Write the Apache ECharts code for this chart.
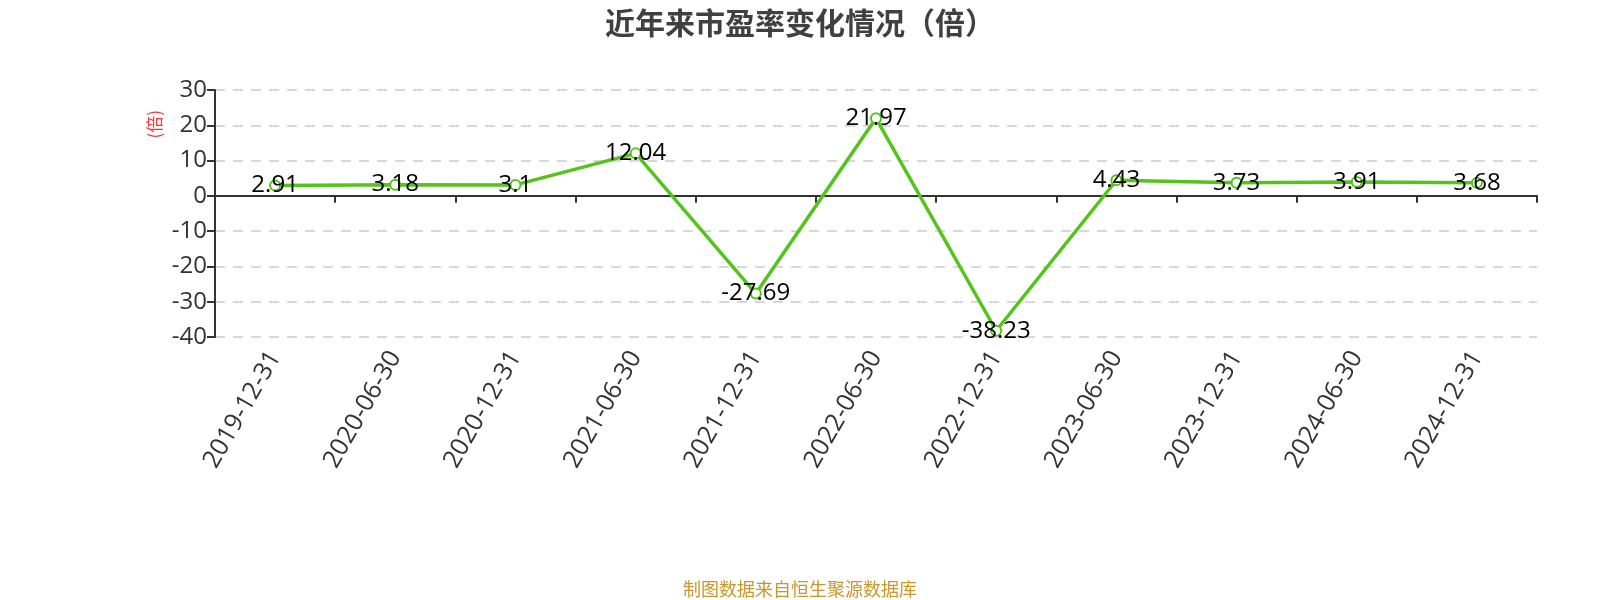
<!DOCTYPE html>
<html><head><meta charset="utf-8">
<script src="https://cdn.jsdelivr.net/npm/echarts@6/dist/echarts.min.js"></script>
<style>html,body{margin:0;padding:0;background:#fff}#c{width:1600px;height:600px}</style>
</head><body><div id="c"></div>
<script>
const categories = ['2019-12-31','2020-06-30','2020-12-31','2021-06-30','2021-12-31','2022-06-30','2022-12-31','2023-06-30','2023-12-31','2024-06-30','2024-12-31'];
const peValues = [2.91, 3.18, 3.1, 12.04, -27.69, 21.97, -38.23, 4.43, 3.73, 3.91, 3.68];
const yMin = -40, yMax = 30, yStep = 10;
const titleText = '近年来市盈率变化情况（倍）';
const unitText = '(倍)';
const sourceText = '制图数据来自恒生聚源数据库';

const FONT = "'Open Sans','Noto Sans CJK SC',sans-serif";
const chart = echarts.init(document.getElementById('c'));
chart.setOption({
  backgroundColor: '#fff',
  animation: false,
  title: [{
    text: titleText, left: 'center', top: 3, padding: [5, 18, 5, 0],
    textStyle: {fontFamily: "'Noto Sans CJK SC',sans-serif", fontSize: 30, fontWeight: 'bold', color: '#404040'}
  }, {
    text: sourceText, left: 'center', bottom: -3,
    textStyle: {fontFamily: "'Noto Sans CJK SC',sans-serif", fontSize: 18, fontWeight: 'normal', color: '#c9962b'}
  }],
  graphic: [{
    type: 'text', left: 146, top: 110, rotation: Math.PI / 2,
    style: {text: unitText, fill: '#ff3333', font: "17px 'Noto Sans CJK SC',sans-serif"}
  }],
  grid: {left: 215, right: 63, top: 90, bottom: 263, containLabel: false},
  xAxis: [{
    type: 'category', data: categories, boundaryGap: true,
    axisLine: {onZero: true, lineStyle: {color: '#333', width: 2}},
    axisTick: {show: true, alignWithLabel: false, length: 7, lineStyle: {color: '#333', width: 2}},
    axisLabel: {show: false}
  }, {
    type: 'category', data: categories, boundaryGap: true, position: 'bottom',
    axisLine: {show: false, onZero: false}, axisTick: {show: false},
    axisLabel: {interval: 0, rotate: 60, fontSize: 25, color: '#333', fontFamily: FONT, margin: 16}
  }],
  yAxis: {
    type: 'value', min: yMin, max: yMax, interval: yStep,
    axisLine: {show: true, lineStyle: {color: '#333', width: 2}},
    axisTick: {show: true, length: 8, lineStyle: {color: '#333', width: 2}},
    axisLabel: {fontSize: 24, color: '#333', fontFamily: FONT, margin: 8},
    splitLine: {show: true, lineStyle: {type: [10, 8], color: '#ccc', width: 1.5}}
  },
  series: [{
    type: 'line', data: peValues, xAxisIndex: 0,
    symbol: 'emptyCircle', symbolSize: 10,
    lineStyle: {color: '#52c41a', width: 3.5},
    itemStyle: {color: '#52c41a', borderWidth: 2},
    label: {show: true, position: 'inside', fontSize: 24, color: '#000', fontFamily: FONT, offset: [0, 0]}
  }]
});
</script></body></html>
